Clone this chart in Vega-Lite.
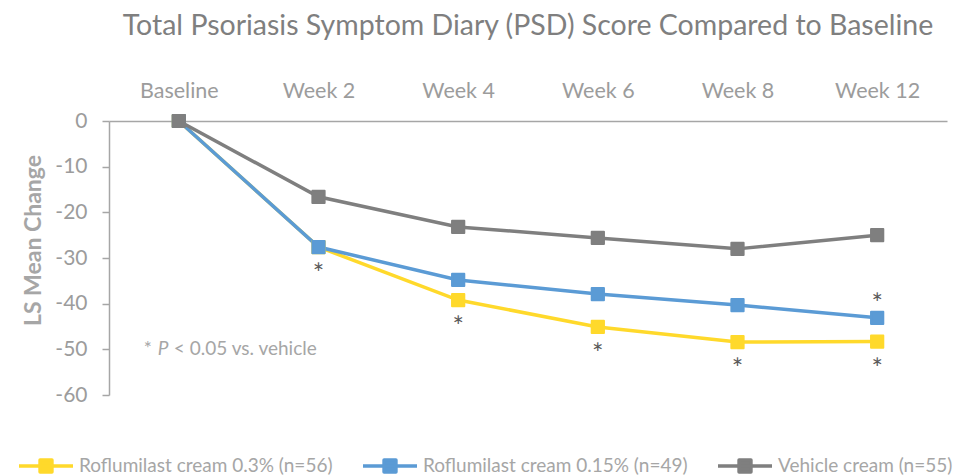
{
  "$schema": "https://vega.github.io/schema/vega-lite/v6.json",
  "width": 838,
  "height": 274,
  "autosize": {"type": "none"},
  "padding": {"left": 109, "top": 121, "right": 11, "bottom": 81},
  "background": "white",
  "config": {"view": {"stroke": null}, "font": "Lato"},
  "title": {"text": "Total Psoriasis Symptom Diary (PSD) Score Compared to Baseline", "fontSize": 28.5, "fontWeight": "normal", "color": "#7F7F7F", "font": "Lato", "offset": 40, "anchor": "middle"},
  "datasets": {
    "series": [
      {"week": "Baseline", "group": "Roflumilast cream 0.3% (n=56)", "value": 0},
      {"week": "Week 2", "group": "Roflumilast cream 0.3% (n=56)", "value": -27.6},
      {"week": "Week 4", "group": "Roflumilast cream 0.3% (n=56)", "value": -39.2},
      {"week": "Week 6", "group": "Roflumilast cream 0.3% (n=56)", "value": -45.1},
      {"week": "Week 8", "group": "Roflumilast cream 0.3% (n=56)", "value": -48.4},
      {"week": "Week 12", "group": "Roflumilast cream 0.3% (n=56)", "value": -48.3},
      {"week": "Baseline", "group": "Roflumilast cream 0.15% (n=49)", "value": 0},
      {"week": "Week 2", "group": "Roflumilast cream 0.15% (n=49)", "value": -27.6},
      {"week": "Week 4", "group": "Roflumilast cream 0.15% (n=49)", "value": -34.8},
      {"week": "Week 6", "group": "Roflumilast cream 0.15% (n=49)", "value": -37.9},
      {"week": "Week 8", "group": "Roflumilast cream 0.15% (n=49)", "value": -40.3},
      {"week": "Week 12", "group": "Roflumilast cream 0.15% (n=49)", "value": -43.1},
      {"week": "Baseline", "group": "Vehicle cream (n=55)", "value": 0},
      {"week": "Week 2", "group": "Vehicle cream (n=55)", "value": -16.6},
      {"week": "Week 4", "group": "Vehicle cream (n=55)", "value": -23.2},
      {"week": "Week 6", "group": "Vehicle cream (n=55)", "value": -25.6},
      {"week": "Week 8", "group": "Vehicle cream (n=55)", "value": -28.0},
      {"week": "Week 12", "group": "Vehicle cream (n=55)", "value": -25.0}
    ],
    "stars": [
      {"week": "Week 2", "value": -27.6, "pos": "below", "mark": "*"},
      {"week": "Week 4", "value": -39.2, "pos": "below", "mark": "*"},
      {"week": "Week 6", "value": -45.1, "pos": "below", "mark": "*"},
      {"week": "Week 8", "value": -48.4, "pos": "below", "mark": "*"},
      {"week": "Week 12", "value": -48.3, "pos": "below", "mark": "*"},
      {"week": "Week 12", "value": -43.1, "pos": "above", "mark": "*"}
    ],
    "note": [
      {"week": "Baseline", "value": -50, "star": "*", "p": "P", "rest": "< 0.05 vs. vehicle"}
    ]
  },
  "encoding": {
    "x": {"field": "week", "type": "nominal", "sort": ["Baseline", "Week 2", "Week 4", "Week 6", "Week 8", "Week 12"],
      "scale": {"type": "point", "padding": 0.5},
      "axis": {"orient": "top", "title": null, "ticks": false, "domain": true, "domainColor": "#A6A6A6", "domainWidth": 1.5, "labelAngle": 0, "labelFontSize": 21.5, "labelColor": "#9C9C9C", "labelPadding": 24, "labelBaseline": "alphabetic", "labelFont": "Lato"}},
    "y": {"field": "value", "type": "quantitative", "scale": {"domain": [-60, 0], "nice": false},
      "axis": {"values": [0, -10, -20, -30, -40, -50, -60], "grid": false, "domainColor": "#A6A6A6", "domainWidth": 1.5, "tickColor": "#A6A6A6", "tickWidth": 1.5, "tickSize": 7, "labelPadding": 15, "labelFontSize": 21, "labelColor": "#9C9C9C", "labelFont": "Lato",
        "labelExpr": "replace(datum.label, '\u2212', '-')",
        "title": "LS Mean Change", "titleFontSize": 23, "titleFontWeight": "bold", "titleColor": "#A6A6A6", "titleFont": "Lato",
        "titleX": -76, "titleY": 119, "titleAngle": 270, "titleAlign": "center", "titleBaseline": "middle"}}
  },
  "layer": [
    {
      "data": {"name": "series"},
      "mark": {"type": "line", "strokeWidth": 3.5},
      "encoding": {
        "color": {"field": "group", "type": "nominal",
          "scale": {"domain": ["Roflumilast cream 0.3% (n=56)", "Roflumilast cream 0.15% (n=49)", "Vehicle cream (n=55)"], "range": ["#FFD92B", "#5B9BD5", "#7F7F7F"]},
          "legend": {"title": null, "orient": "none", "legendX": -92, "legendY": 316, "direction": "horizontal",
            "symbolType": "M-1,0H1M-0.22,-0.22H0.22V0.22H-0.22Z", "symbolSize": 2916, "symbolStrokeWidth": 3.5,
            "labelFontSize": 19, "labelColor": "#A6A6A6", "labelFont": "Lato", "labelOffset": 4, "columnPadding": 28, "labelLimit": 400,
            "encode": {"symbols": {"update": {"fill": {"scale": "color", "field": "value"}, "stroke": {"scale": "color", "field": "value"}, "strokeJoin": {"value": "round"}}}}}}
      }
    },
    {
      "data": {"name": "series"},
      "mark": {"type": "point", "shape": "square", "filled": true, "size": 150, "strokeWidth": 2, "strokeJoin": "round", "opacity": 1},
      "encoding": {
        "color": {"field": "group", "type": "nominal", "legend": null},
        "stroke": {"field": "group", "type": "nominal", "scale": {"domain": ["Roflumilast cream 0.3% (n=56)", "Roflumilast cream 0.15% (n=49)", "Vehicle cream (n=55)"], "range": ["#FFD92B", "#5B9BD5", "#7F7F7F"]}, "legend": null}
      }
    },
    {
      "data": {"name": "stars"},
      "transform": [{"filter": "datum.pos === 'below'"}],
      "mark": {"type": "text", "fontSize": 27, "color": "#595959", "baseline": "alphabetic", "dy": 36, "font": "Lato"},
      "encoding": {"text": {"field": "mark"}}
    },
    {
      "data": {"name": "stars"},
      "transform": [{"filter": "datum.pos === 'above'"}],
      "mark": {"type": "text", "fontSize": 27, "color": "#595959", "baseline": "alphabetic", "dy": -5, "font": "Lato"},
      "encoding": {"text": {"field": "mark"}}
    },
    {
      "data": {"name": "note"},
      "mark": {"type": "text", "fontSize": 19, "color": "#A6A6A6", "align": "left", "baseline": "middle", "dx": -35, "font": "Lato"},
      "encoding": {"text": {"field": "star"}}
    },
    {
      "data": {"name": "note"},
      "mark": {"type": "text", "fontSize": 19, "color": "#A6A6A6", "align": "left", "baseline": "middle", "dx": -21, "fontStyle": "italic", "font": "Lato"},
      "encoding": {"text": {"field": "p"}}
    },
    {
      "data": {"name": "note"},
      "mark": {"type": "text", "fontSize": 19, "color": "#A6A6A6", "align": "left", "baseline": "middle", "dx": -5, "font": "Lato"},
      "encoding": {"text": {"field": "rest"}}
    }
  ]
}
